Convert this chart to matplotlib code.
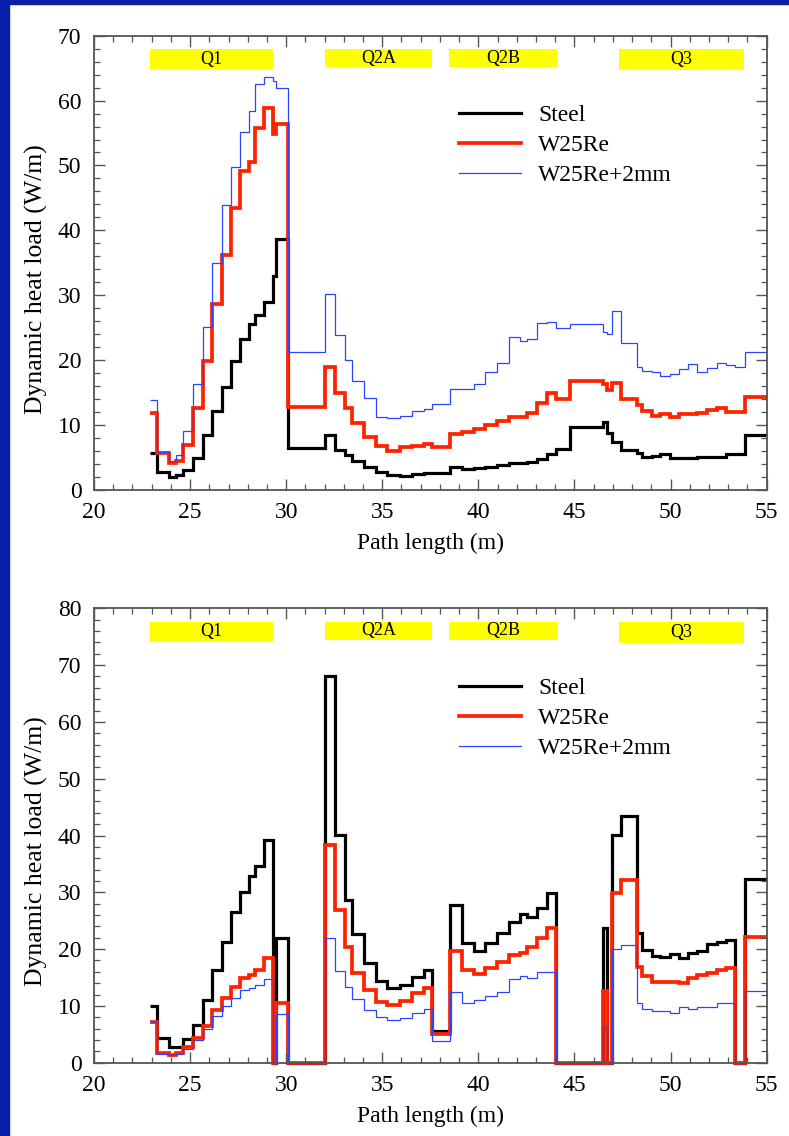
import numpy as np
import matplotlib
matplotlib.use("Agg")
import matplotlib.pyplot as plt
from matplotlib.patches import Rectangle
from matplotlib.ticker import MultipleLocator
import matplotlib.transforms as mtransforms

plt.rcParams['font.family'] = ['Liberation Serif', 'DejaVu Serif']

# bin edges along the path (m), shared by every curve
edges = [22.92, 23.26, 23.92, 24.27, 24.65, 25.17, 25.66, 26.13, 26.65, 27.12,
         27.6, 28.09, 28.4, 28.85, 29.3, 29.48, 30.12, 32.03, 32.52, 33.07,
         33.42, 34.03, 34.65, 35.26, 35.9, 36.53, 37.15, 37.57, 38.51, 39.15,
         39.76, 40.36, 40.97, 41.58, 42.19, 42.54, 43.06, 43.55, 44.06, 44.76,
         46.47, 46.69, 46.96, 47.44, 48.24, 48.52, 49.05, 49.47, 49.95, 50.43,
         50.93, 51.4, 51.88, 52.39, 52.86, 53.35, 53.88, 55.0]

# top panel
top_steel = [5.65, 2.8, 2.05, 2.3, 3.1, 5.0, 8.4, 12.1, 15.9, 19.8,
             23.2, 25.5, 27.0, 28.9, 32.9, 38.7, 6.5, 8.5, 6.2, 5.4,
             4.5, 3.6, 2.7, 2.3, 2.2, 2.45, 2.65, 2.65, 3.5, 3.2,
             3.45, 3.6, 3.85, 4.1, 4.2, 4.3, 4.7, 5.5, 6.3, 9.75,
             10.4, 8.8, 7.45, 6.15, 5.65, 5.15, 5.25, 5.5, 5.0, 5.0,
             5.0, 5.15, 5.05, 5.15, 5.55, 5.55, 8.5]
top_w25re = [11.8, 5.75, 4.1, 4.5, 6.9, 12.6, 19.9, 28.6, 36.2, 43.5,
             49.2, 50.6, 55.8, 58.8, 54.8, 56.4, 12.8, 19.0, 14.9, 12.7,
             10.3, 8.1, 6.7, 6.05, 6.6, 6.8, 7.1, 6.6, 8.6, 9.0,
             9.35, 10.0, 10.6, 11.2, 11.3, 11.8, 13.4, 15.0, 14.0, 16.8,
             16.4, 15.4, 16.5, 14.0, 13.1, 12.2, 11.45, 11.7, 11.2, 11.7,
             11.7, 11.8, 12.3, 12.6, 12.0, 12.0, 14.4]
top_w25re_2mm = [13.9, 5.9, 4.4, 5.4, 9.1, 16.3, 25.1, 35.0, 43.9, 49.8,
                 55.2, 58.4, 62.5, 63.7, 63.0, 61.9, 21.3, 30.15, 23.8, 20.1,
                 16.8, 14.1, 11.25, 11.05, 11.45, 12.2, 12.4, 13.2, 15.5, 15.5,
                 16.4, 18.2, 19.5, 23.6, 23.0, 23.3, 25.8, 25.9, 24.9, 25.5,
                 24.3, 24.1, 27.6, 22.7, 19.0, 18.4, 18.1, 17.6, 17.8, 18.6,
                 19.4, 18.2, 18.75, 19.5, 19.3, 18.95, 21.3]

# bottom panel
bot_steel = [9.9, 4.4, 2.8, 2.8, 4.1, 6.6, 11.0, 16.3, 21.3, 26.6,
             30.1, 32.9, 34.7, 39.3, 0, 21.9, 0, 68.0, 40.1, 28.6,
             22.6, 17.6, 14.4, 13.2, 13.7, 15.1, 16.3, 5.6, 27.8, 21.0,
             19.7, 21.0, 22.8, 24.8, 26.2, 25.7, 27.2, 29.8, 0, 0,
             23.8, 0, 40.1, 43.5, 22.8, 19.8, 18.85, 18.7, 19.1, 18.4,
             19.3, 19.7, 20.9, 21.2, 21.6, 0, 32.3]
bot_w25re = [7.2, 1.8, 1.35, 1.65, 2.7, 4.3, 6.5, 9.3, 11.45, 13.4,
             14.85, 15.4, 16.3, 18.4, 0, 10.5, 0, 38.3, 26.9, 20.3,
             15.85, 12.8, 10.75, 10.15, 10.9, 12.3, 13.1, 5.05, 19.7, 16.4,
             15.7, 16.6, 17.8, 19.0, 19.4, 20.4, 21.9, 23.7, 0, 0,
             12.7, 0, 29.8, 32.2, 16.9, 15.3, 14.15, 14.3, 14.3, 14.1,
             14.85, 15.4, 15.85, 16.4, 16.7, 0, 22.2]
bot_w25re_2mm = [7.1, 1.5, 1.35, 1.5, 2.35, 4.0, 5.9, 8.2, 10.0, 11.45,
                 12.8, 13.1, 13.7, 14.7, 0, 8.6, 0, 22.0, 16.2, 13.3,
                 11.2, 9.3, 8.1, 7.5, 7.8, 8.7, 9.45, 3.9, 12.4, 10.6,
                 11.0, 11.8, 12.5, 14.7, 15.3, 14.85, 15.9, 15.9, 0, 0,
                 6.3, 0, 20.0, 20.8, 10.6, 9.45, 9.15, 9.15, 8.8, 9.85,
                 9.45, 9.85, 9.85, 10.6, 10.6, 0, 12.7]

# magnet regions
magnet_names = ['Q1', 'Q2A', 'Q2B', 'Q3']
magnet_start = [22.92, 32.0, 38.49, 47.3]
magnet_end = [29.32, 37.6, 44.1, 53.8]

labels = ['Steel', 'W25Re', 'W25Re+2mm']

fig = plt.figure(figsize=(7.89, 11.36), dpi=100)
fig.patch.set_facecolor('white')
# slide border
fig.patches.append(Rectangle((0, 0), 0.012, 1, transform=fig.transFigure,
                             color='#0a1fa8', zorder=-1))
fig.patches.append(Rectangle((0, 0.9965), 1, 0.0035, transform=fig.transFigure,
                             color='#0a1fa8', zorder=-1))

ax_top = fig.add_axes([0.1191, 0.5687, 0.8526, 0.3999])
ax_bot = fig.add_axes([0.1191, 0.0645, 0.8526, 0.4000])

panels = [(ax_top, [top_steel, top_w25re, top_w25re_2mm], 70),
          (ax_bot, [bot_steel, bot_w25re, bot_w25re_2mm], 80)]

box_bottoms = [0.926, 0.930, 0.930, 0.924]

for ax, series, ymax in panels:
    styles = [('black', 2.3), ('#ff2200', 2.7), ('#2a45ff', 0.9)]
    for vals, (col, lw), lab in zip(series, styles, labels):
        ax.stairs(vals, edges, baseline=None, color=col, linewidth=lw,
                  label=lab, clip_on=False)

    ax.set_xlim(20, 55)
    ax.set_ylim(0, ymax)
    ax.xaxis.set_major_locator(MultipleLocator(5))
    ax.xaxis.set_minor_locator(MultipleLocator(1))
    ax.yaxis.set_major_locator(MultipleLocator(10))
    ax.yaxis.set_minor_locator(MultipleLocator(2))
    ax.tick_params(which='both', direction='in', top=True, right=True,
                   colors='#555555', labelcolor='black', labelsize=17, pad=9)
    ax.tick_params(which='major', length=8, width=1.0)
    ax.tick_params(which='minor', length=4.5, width=0.9)
    for sp in ax.spines.values():
        sp.set_color('#555555')
        sp.set_linewidth(1.3)

    trans = mtransforms.blended_transform_factory(ax.transData, ax.transAxes)
    for name, x0, x1, yb in zip(magnet_names, magnet_start, magnet_end, box_bottoms):
        ax.add_patch(Rectangle((x0, yb), x1 - x0, 0.971 - yb, transform=trans,
                               facecolor='#ffff00', edgecolor='none', zorder=1))
        ax.text((x0 + x1) / 2, (yb + 0.971) / 2, name, transform=trans,
                ha='center', va='center', fontsize=13, zorder=2)

    ax.set_xlabel('Path length (m)', fontsize=17)
    ax.set_ylabel('Dynamic heat load (W/m)', fontsize=18.5)
    ax.xaxis.set_label_coords(0.5, -0.095)
    ax.yaxis.set_label_coords(-0.068, 0.465)

    ax.legend(loc='upper left', bbox_to_anchor=(0.543, 0.848), frameon=False,
              fontsize=17, handlelength=2.6, handletextpad=0.75,
              labelspacing=0.36, borderpad=0, borderaxespad=0)

fig.savefig('out.png', dpi=100)
